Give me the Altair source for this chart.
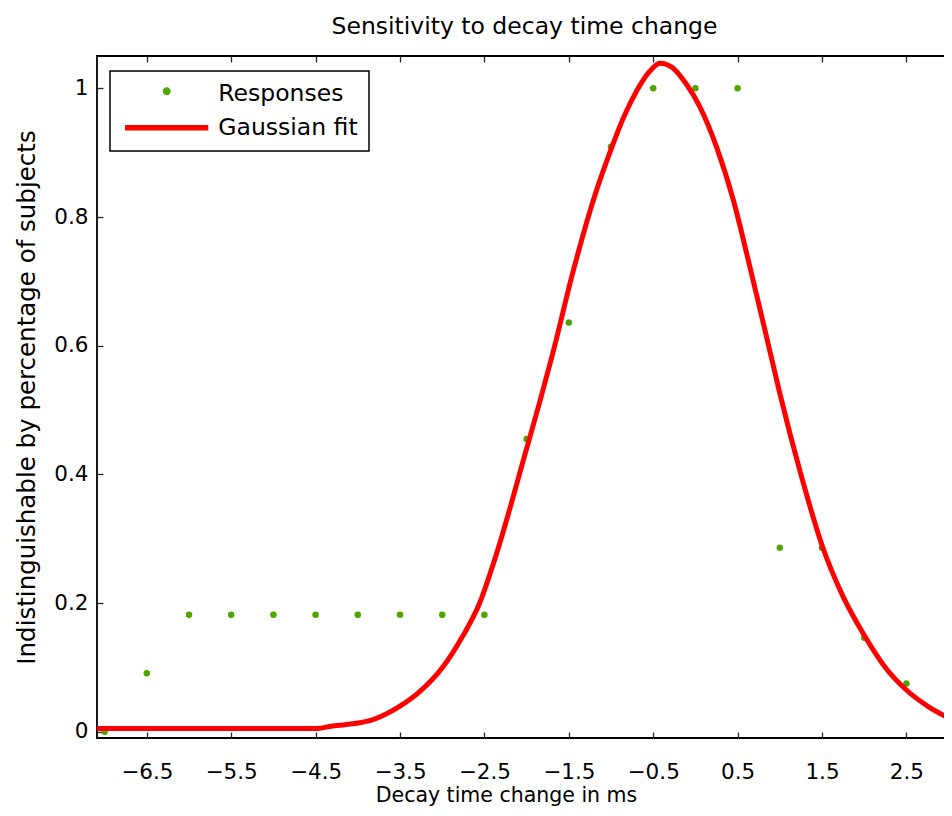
import altair as alt
import pandas as pd

# ---- data ----
resp_x = [-7, -6.5, -6, -5.5, -5, -4.5, -4, -3.5, -3, -2.5, -2, -1.5, -1, -0.5, 0, 0.5, 1, 1.5, 2, 2.5, 3]
resp_y = [0.0, 0.091, 0.182, 0.182, 0.182, 0.182, 0.182, 0.182, 0.182, 0.182,
          0.455, 0.636, 0.909, 1.0, 1.0, 1.0, 0.286, 0.286, 0.146, 0.075, 0.004]

fit_x = [-7.09, -6.0, -5.0, -4.51, -4.30, -3.98, -3.82, -3.51, -3.27, -2.99, -2.76, -2.56, -2.38,
         -2.0, -1.85, -1.69, -1.45, -1.2, -1.0, -0.85, -0.7, -0.55, -0.42, -0.28,
         -0.11, 0.05, 0.25, 0.45, 0.65, 0.86, 1.0, 1.25, 1.5, 1.75, 2.0, 2.25, 2.5,
         2.75, 3.04]
fit_y = [0.005, 0.005, 0.005, 0.005, 0.009, 0.014, 0.019, 0.039, 0.062, 0.101, 0.148, 0.199, 0.267,
         0.44, 0.51, 0.588, 0.715, 0.83, 0.905, 0.955, 0.995, 1.025, 1.039, 1.033,
         1.007, 0.972, 0.909, 0.826, 0.72, 0.604, 0.526, 0.40, 0.29, 0.21, 0.15, 0.10, 0.065,
         0.04, 0.019]

x_ticks = [-6.5, -5.5, -4.5, -3.5, -2.5, -1.5, -0.5, 0.5, 1.5, 2.5]
y_ticks = [0, 0.2, 0.4, 0.6, 0.8, 1]
series_names = ["Responses", "Gaussian fit"]
series_colors = ["#4fa600", "#ff0000"]

resp = pd.DataFrame({"x": resp_x, "y": resp_y, "series": series_names[0]})
fit = pd.DataFrame({"x": fit_x, "y": fit_y, "series": series_names[1]})

FONT = "DejaVu Sans"
GREEN = series_colors[0]
RED = series_colors[1]

x_scale = alt.Scale(domain=[-7.09, 3.04], nice=False, zero=False)
y_scale = alt.Scale(domain=[-0.0096, 1.0502], nice=False, zero=False)

tick_style = dict(grid=False, domain=False, offset=-6, tickSize=6,
                  tickColor="#262626", tickWidth=1.3)

bottom_axis = alt.Axis(orient="bottom", values=x_ticks, format=".1f",
                       labelFont=FONT, labelFontSize=21.5, labelColor="black",
                       labelPadding=23, labelFlush=False, labelOverlap=False,
                       title="Decay time change in ms", titleFont=FONT, titleFontSize=20.5,
                       titleFontWeight="normal", titleColor="black", titlePadding=3,
                       titleX=409,
                       **tick_style)
left_axis = alt.Axis(orient="left", values=y_ticks, format="~g",
                     labelFont=FONT, labelFontSize=21.5, labelColor="black",
                     labelPadding=9, labelFlush=False, labelOverlap=False,
                     title="Indistinguishable by percentage of subjects", titleFont=FONT,
                     titleFontSize=24.5, titleFontWeight="normal", titleColor="black",
                     titlePadding=14, **tick_style)
top_axis = alt.Axis(orient="top", values=x_ticks, labels=False, title=None, **tick_style)
right_axis = alt.Axis(orient="right", values=y_ticks, labels=False, title=None, **tick_style)

# legend symbols: custom paths (unit = 3 px for symbolSize 36)
cx, cy, r = 11.32, -0.82, 1.33
circle_path = f"M{cx + r},{cy}A{r},{r},0,1,1,{cx - r},{cy}A{r},{r},0,1,1,{cx + r},{cy}Z"
rect_path = "M-2.58,-0.9L25.18,-0.9L25.18,0.9L-2.58,0.9Z"

legend_opts = dict(orient="none", legendX=13, legendY=15, title=None,
                   padding=11, rowPadding=9, labelOffset=73.8, symbolOffset=0,
                   symbolSize=36, symbolStrokeWidth=0,
                   labelFont=FONT, labelFontSize=23.5, labelColor="black",
                   strokeColor="black", fillColor="white")

points = alt.Chart(resp).mark_circle(size=42, opacity=1, color=GREEN).encode(
    x=alt.X("x:Q", scale=x_scale, axis=top_axis),
    y=alt.Y("y:Q", scale=y_scale, axis=right_axis),
)

line = alt.Chart(fit).mark_line(color=RED, strokeWidth=5, interpolate="monotone", clip=True).encode(
    x=alt.X("x:Q", scale=x_scale, axis=bottom_axis),
    y=alt.Y("y:Q", scale=y_scale, axis=left_axis),
)

legend_layer = alt.Chart(resp).transform_filter("false").mark_point(
    filled=True, opacity=1, size=36
).encode(
    x=alt.X("x:Q", scale=x_scale, axis=None),
    y=alt.Y("y:Q", scale=y_scale, axis=None),
    color=alt.Color("series:N", scale=alt.Scale(domain=series_names, range=series_colors),
                    legend=alt.Legend(**legend_opts)),
    shape=alt.Shape("series:N", scale=alt.Scale(domain=series_names, range=[circle_path, rect_path]),
                    legend=alt.Legend(**legend_opts)),
)

chart = alt.layer(points, line, legend_layer).resolve_axis(
    x="independent", y="independent"
).properties(
    width=855,
    height=682,
    title=alt.TitleParams("Sensitivity to decay time change", font=FONT, fontSize=23.5,
                          fontWeight="normal", color="black", anchor="middle", offset=17),
    autosize=alt.AutoSizeParams(type="none"),
    padding={"left": 89, "top": 48, "right": -8, "bottom": 70},
    background="white",
).configure_view(
    stroke="black", strokeWidth=1.8
).configure_legend(
    strokeWidth=1.5
)

chart.save("out.html", embed_options={"renderer": "svg", "actions": False})
